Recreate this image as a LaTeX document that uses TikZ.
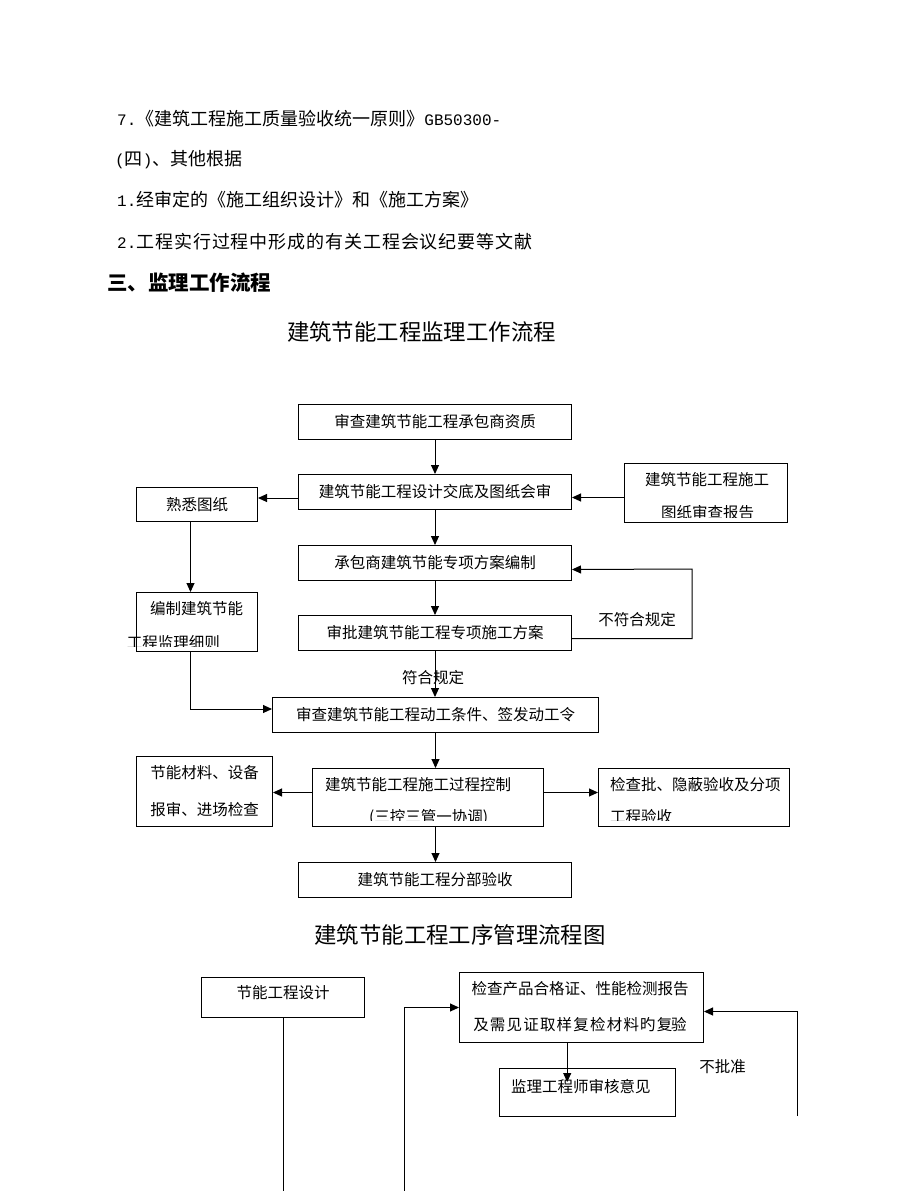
\documentclass[tikz,border=0pt]{standalone}
\usepackage{fontspec}
\setmainfont{Noto Sans CJK SC}
\newfontfamily\mono{Liberation Mono}
\usetikzlibrary{arrows.meta}
\newcommand{\lat}[1]{{\mono\fontsize{16}{18}\selectfont #1}}
\begin{document}
\begin{tikzpicture}[x=1pt,y=-1pt,
  box/.style={draw,line width=1pt,inner sep=0pt,anchor=north west,font=\fontsize{15.5}{18}\selectfont},
  bt/.style={inner sep=0pt,font=\fontsize{15.5}{18}\selectfont},
  body/.style={inner sep=0pt,anchor=west,font=\fontsize{18}{20}\selectfont},
  ttl/.style={inner sep=0pt,font=\fontsize{22.4}{24}\selectfont},
  arr/.style={line width=1pt,-{Triangle[length=9pt,width=8pt]}},
  ln/.style={line width=1pt}]
\useasboundingbox (0,0) rectangle (920,1191);

% ---- text lines ----
\node[body] (l1) at (117,119) {\lat{7.}《建筑工程施工质量验收统一原则》\lat{GB50300-}};
\node[body] (l2) at (115,160) {\lat{(}四\lat{)}、其他根据};
\node[body] (l3) at (117,200) {\lat{1.}经审定的《施工组织设计》和《施工方案》};
\node[body] (l4) at (117,242) {\lat{2.}{\addfontfeature{LetterSpace=5}工程实行过程中形成的有关工程会议纪要等文献}};
\node[body,font=\fontsize{20.5}{22}\selectfont\bfseries] (h3) at (107,283) {三、监理工作流程};
\node[ttl] (t1) at (421.5,332) {建筑节能工程监理工作流程};

% ---- flowchart 1 ----
\node[box,minimum width=273pt,minimum height=35pt] (A) at (298,404) {审查建筑节能工程承包商资质};
\node[box,minimum width=273pt,minimum height=35pt] (B) at (298,474) {建筑节能工程设计交底及图纸会审};
\node[box,minimum width=121pt,minimum height=34pt] (S) at (136,487) {熟悉图纸};
\node[box,minimum width=163pt,minimum height=59pt] (R) at (624,463) {};
\node[bt] (Rt1) at (707,480) {建筑节能工程施工};
\begin{scope}
  \clip (600,500) rectangle (800,517);
  \node[bt] (Rt2) at (707.5,513) {图纸审查报告};
\end{scope}
\node[box,minimum width=273pt,minimum height=35pt] (C) at (298,545) {承包商建筑节能专项方案编制};
\node[box,minimum width=273pt,minimum height=35pt] (D) at (298,615) {审批建筑节能工程专项施工方案};
\node[box,minimum width=121pt,minimum height=59pt] (P) at (136,592) {};
\node[bt] (Pt1) at (196.5,609) {编制建筑节能};
\begin{scope}
  \clip (100,630) rectangle (300,646.7);
  \node[bt,anchor=west] (Pt2) at (126.7,642.7) {工程监理细则};
\end{scope}
\node[box,minimum width=326pt,minimum height=35pt] (E) at (272,697) {审查建筑节能工程动工条件、签发动工令};
\node[box,minimum width=231pt,minimum height=58pt] (F) at (312,768) {};
\node[bt,anchor=west] (Ft1) at (325,785) {建筑节能工程施工过程控制};
\begin{scope}
  \clip (300,805) rectangle (560,820.7);
  \node[bt] (Ft2) at (428.5,817) {(三控三管一协调)};
\end{scope}
\node[box,minimum width=136pt,minimum height=70pt,align=center,font=\fontsize{15.5}{37}\selectfont] (G) at (136,756) {节能材料、设备\\报审、进场检查};
\node[box,minimum width=191pt,minimum height=58pt] (H) at (598,768) {};
\node[bt,anchor=west] (Ht1) at (610,785) {检查批、隐蔽验收及分项};
\begin{scope}
  \clip (590,805) rectangle (800,820.7);
  \node[bt,anchor=west] (Ht2) at (610,817) {工程验收};
\end{scope}
\node[box,minimum width=273pt,minimum height=35pt] (I) at (298,862) {建筑节能工程分部验收};

% connectors
\draw[arr] (A.south) -- (A.south |- B.north);
\coordinate (b1) at ([yshift=-6pt]B.west);
\draw[arr] (b1) -- (b1 -| S.east);
\coordinate (r1) at ([yshift=-4.5pt]R.west);
\draw[arr] (r1) -- (r1 -| B.east);
\draw[arr] (B.south) -- (B.south |- C.north);
\draw[arr] (C.south) -- (C.south |- D.north);
\coordinate (d1) at ([yshift=-5.5pt]D.east);
\coordinate (fb) at (692,569);
\coordinate (c1) at ([yshift=-6.5pt]C.east);
\draw[arr] (d1) -| (fb) -- (c1);
\node[bt] (nf) at (637,620) {不符合规定};
\coordinate (s1) at ([xshift=-6.5pt]S.south);
\draw[arr] (s1) -- (s1 |- P.north);
\coordinate (p1) at ([xshift=-6.5pt]P.south);
\coordinate (e1) at ([yshift=6pt]E.west);
\draw[arr] (p1) |- (e1);
\draw[arr] (D.south) -- (D.south |- E.north);
\node[bt] (ok) at (433,678) {符合规定};
\draw[arr] (E.south) -- (E.south |- F.north);
\coordinate (f1) at ([yshift=5pt]F.west);
\draw[arr] (f1) -- (f1 -| G.east);
\coordinate (f2) at ([yshift=5pt]F.east);
\draw[arr] (f2) -- (f2 -| H.west);
\coordinate (f3) at (E.south |- F.south);
\draw[arr] (f3) -- (f3 |- I.north);

% ---- flowchart 2 ----
\node[ttl] (t2) at (460,935) {建筑节能工程工序管理流程图};
\node[box,minimum width=163pt,minimum height=40pt] (K) at (201,977) {};
\node[bt] (Kt) at (283,993) {节能工程设计};
\node[box,minimum width=244pt,minimum height=70pt] (Q) at (459,972) {};
\node[bt] (Qt1) at (580,989) {检查产品合格证、性能检测报告};
\node[bt] (Qt2) at (580,1025) {\addfontfeature{LetterSpace=7.7}及需见证取样复检材料旳复\kern-1.2pt 验};
\node[box,minimum width=176pt,minimum height=48pt] (M) at (499,1068) {};
\node[bt,anchor=west] (Mt) at (511,1086.5) {监理工程师审核意见};
\node[bt] (nb) at (722.5,1067) {不批准};

\coordinate (kb) at (282.5,1192);
\draw[ln] (K.south) -- (K.south |- kb);
\coordinate (lb) at (404.6,1192);
\draw[arr] (lb) |- (Q.west);
\coordinate (q2) at ([xshift=-14.3pt]Q.south);
\coordinate (mt0) at (q2 |- M.north);
\coordinate (mtip) at ([yshift=-14pt]mt0);
\draw[arr] (q2) -- (mtip);
\coordinate (rb) at (797,1116);
\coordinate (q3) at ([yshift=-4pt]Q.east);
\draw[arr] (rb) |- (q3);
\end{tikzpicture}
\end{document}
